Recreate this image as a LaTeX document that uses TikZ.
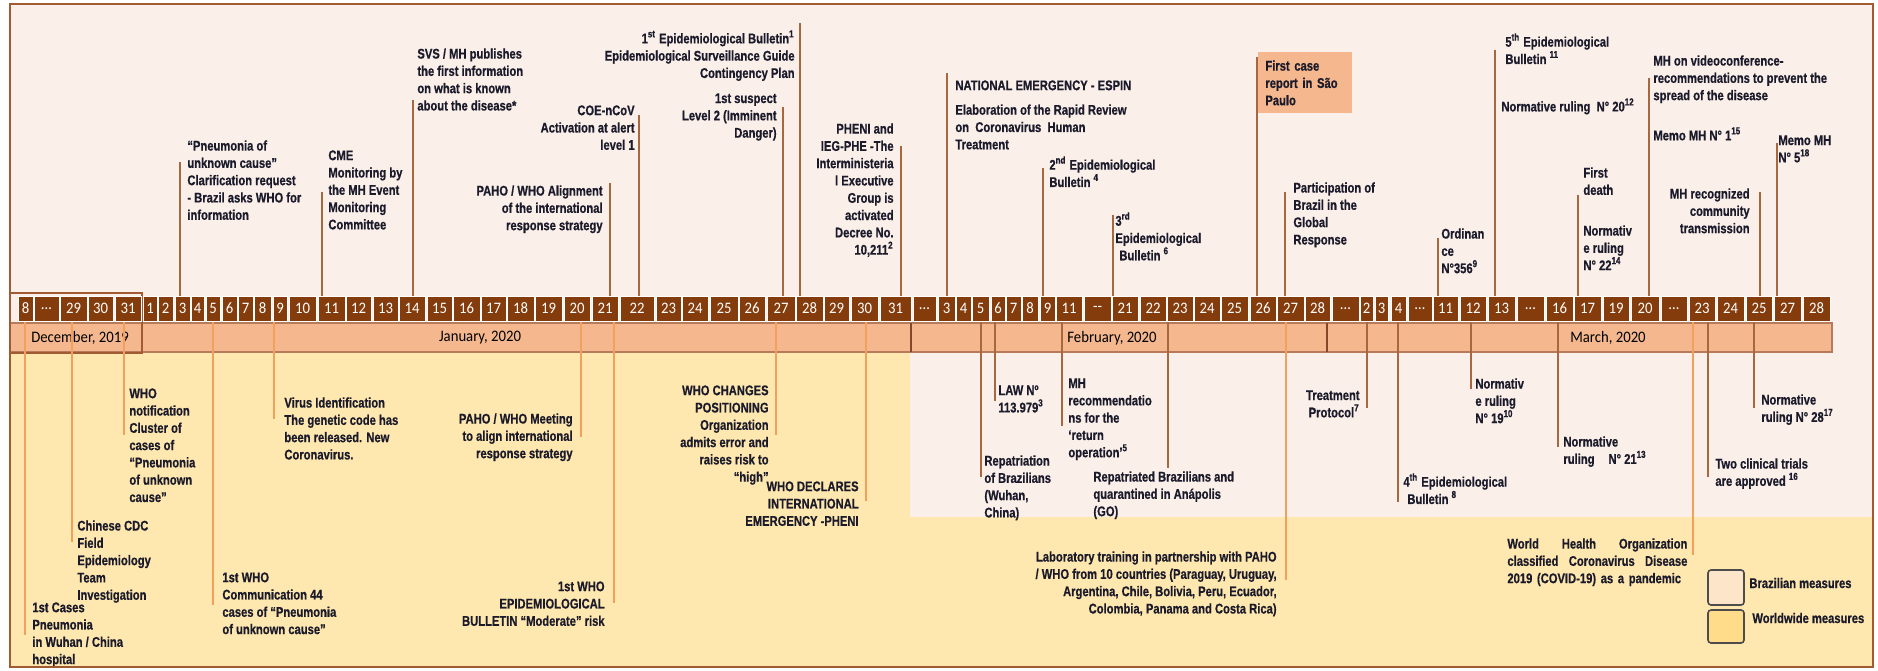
\documentclass[tikz,border=0pt]{standalone}
\usepackage{fontspec}
\setmainfont{Liberation Sans}[FakeStretch=0.8, BoldFeatures={FakeBold=0.6}]
\newfontfamily\stripfont{Carlito}[FakeStretch=0.92]
\usetikzlibrary{calc}

\definecolor{bgpink}{HTML}{FAEFE9}
\definecolor{bgyellow}{HTML}{FFE8AF}
\definecolor{daybrown}{HTML}{843C0C}
\definecolor{monthband}{HTML}{F4B78E}
\definecolor{framebrown}{HTML}{A25A32}
\definecolor{linkbrown}{HTML}{A8683F}
\definecolor{linkorange}{HTML}{F2A05C}
\definecolor{txt}{HTML}{1A1A2A}
\definecolor{legpink}{HTML}{FCE5C8}
\definecolor{legyellow}{HTML}{FFDC8A}

\newcommand{\evtfont}{\fontsize{7}{8.65}\selectfont\bfseries}

\begin{document}
\begin{tikzpicture}[
  x=0.5pt, y=-0.5pt,
  evt/.style={inner sep=0pt, font=\evtfont, text=txt},
  evtl/.style={evt, anchor=north west, align=left},
  evtr/.style={evt, anchor=north east, align=right},
  toplink/.style={linkbrown, line width=0.9pt},
  botlink/.style={linkorange, line width=0.9pt},
  brlink/.style={linkbrown, line width=0.9pt},
  daycell/.style={fill=daybrown, draw=white, line width=0.5pt, text=white,
    inner sep=0pt, minimum height=12.5pt, font=\stripfont\fontsize{8}{8}\selectfont},
  monthlbl/.style={inner sep=0pt, text=black, font=\stripfont\fontsize{8}{8}\selectfont},
  legbox/.style={draw=black!70, line width=0.8pt, rounded corners=1.5pt,
    minimum width=18pt, inner sep=0pt}
]
\useasboundingbox (0,0) rectangle (1878,670);

% --- Backgrounds: Brazilian (pink) and worldwide (yellow) ---
\fill[bgpink] (10,4) rectangle (1873,352);
\fill[bgyellow] (10,352) rectangle (1873,667);
\fill[bgpink] (910,352) rectangle (1873,517);

% --- Month band ---
\draw[fill=monthband, draw=framebrown!80, line width=0.6pt] (10,323) rectangle (1832,352);
\foreach \x in {142,911,1327}
  \draw[framebrown!80!black, line width=0.7pt] (\x,323) -- (\x,352);
\draw[framebrown, line width=1pt] (10,293) rectangle (142,353);

\node[monthlbl] (mdec) at (80,338) {December, 2019};
\node[monthlbl] (mjan) at (480,338) {January, 2020};
\node[monthlbl] (mfeb) at (1112,338) {February, 2020};
\node[monthlbl] (mmar) at (1608,338) {March, 2020};

\coordinate (striptop) at (0,296);
\coordinate (stripbot) at (0,321);

% --- Worldwide links (orange, going down) ---
\foreach \n/\x/\y in {w1/25/635, w2/72/542, w3/124/435, w4/213/605, w5/274/419,
    w6/581/437, w7/614/603, w8/776/435, w9/866/501, w10/1286/580, w11/1693/555}{
  \coordinate (\n) at (\x,\y);
  \draw[botlink] (stripbot -| \n) -- (\n);
}

% --- Brazilian links below the strip ---
\foreach \n/\x/\y in {b1/981/477, b2/995/401, b3/1062/426, b4/1168/468, b5/1367/408,
    b6/1398/502, b7/1471/389, b8/1558/447, b9/1708/477, b10/1754/408}{
  \coordinate (\n) at (\x,\y);
  \draw[brlink] (stripbot -| \n) -- (\n);
}

% --- Day cells ---
\foreach \a/\b/\lbl [count=\i] in {
    18/33/8, 34/59/\ldots, 60/87/29, 88/113/30, 115/141/31,
    143/157/1, 158/173/2, 175/190/3, 191/204/4, 206/220/5, 222/237/6, 238/253/7,
    254/271/8, 273/287/9, 289/316/10, 318/345/11, 346/371/12, 373/398/13,
    399/425/14, 427/452/15, 453/480/16, 481/506/17, 507/534/18, 535/562/19,
    564/590/20, 592/618/21, 620/654/22, 656/681/23, 682/708/24, 710/738/25,
    739/765/26, 767/795/27, 796/823/28, 824/849/29, 851/878/30, 880/911/31,
    913/936/\ldots, 938/955/3, 956/971/4, 972/989/5, 991/1005/6, 1006/1021/7,
    1022/1038/8, 1040/1055/9, 1056/1082/11, 1084/1111/--, 1112/1138/21,
    1140/1166/22, 1167/1193/23, 1194/1220/24, 1221/1248/25, 1250/1276/26,
    1277/1304/27, 1305/1330/28,
    1332/1359/\ldots, 1360/1373/2, 1375/1388/3, 1391/1406/4, 1408/1432/\ldots,
    1433/1458/11, 1460/1486/12, 1488/1515/13, 1517/1544/\ldots, 1546/1573/16,
    1574/1601/17, 1603/1629/19, 1631/1659/20, 1661/1687/\ldots, 1689/1715/23,
    1717/1744/24, 1746/1772/25, 1774/1801/27, 1803/1830/28}{
  \node[daycell, minimum width={(\b-\a)*0.5pt}] (d\i) at ({(\a+\b)/2},308.5) {\lbl};
}

% --- Brazilian links above the strip ---
\foreach \n/\x/\y in {t1/180/162, t2/322/192, t3/413/100, t4/610/183, t5/639/115,
    t6/783/107, t7/800/23, t8/901/146, t9/947/73, t10/1043/168, t11/1113/215,
    t12/1257/57, t13/1285/192, t14/1438/238, t15/1495/50, t16/1578/195,
    t17/1649/78, t18/1760/192, t19/1777/143}{
  \coordinate (\n) at (\x,\y);
  \draw[toplink] (\n) -- (\n |- striptop);
}

% --- Events above the strip ---
\node[evtl] (e-pneu) at (187,140) {“Pneumonia of\\unknown cause”\\Clarification request\\- Brazil asks WHO for\\information};
\node[evtl] (e-cme) at (328,150) {CME\\Monitoring by\\the MH Event\\Monitoring\\Committee};
\node[evtl] (e-svs) at (417,48) {SVS / MH publishes\\the first information\\on what is known\\about the disease*};
\node[evtr] (e-coe) at (635,105) {COE-nCoV\\Activation at alert\\level 1};
\node[evtr] (e-align) at (603,185) {PAHO / WHO Alignment\\of the international\\response strategy};
\node[evtr] (e-bul1) at (795,30) {1\textsuperscript{st} Epidemiological Bulletin\textsuperscript{1}\\Epidemiological Surveillance Guide\\Contingency Plan};
\node[evtr] (e-susp) at (777,93) {1st suspect\\Level 2 (Imminent\\Danger)};
\node[evtr] (e-pheni) at (894,123) {PHENI and\\IEG-PHE -The\\Interministeria\\l Executive\\Group is\\activated\\Decree No.\\10,211\textsuperscript{2}};
\node[evtl] (e-espin) at (955,80) {NATIONAL EMERGENCY - ESPIN\\[3.6pt]Elaboration of the Rapid Review\\on\ \ Coronavirus\ \ Human\\Treatment};
\node[evtl] (e-bul2) at (1049,156) {2\textsuperscript{nd} Epidemiological\\Bulletin \textsuperscript{4}};
\node[evtl] (e-bul3) at (1115,212) {3\textsuperscript{rd}\\Epidemiological\\\hspace*{2pt}Bulletin \textsuperscript{6}};
\node[evtl, fill=monthband, inner xsep=3.5pt, inner ysep=3pt, text width=40pt,
  minimum height=30.5pt] (e-case) at (1258,52) {First case\\report in São\\Paulo};
\node[evtl] (e-glob) at (1293,182) {Participation of\\Brazil in the\\Global\\Response};
\node[evtl] (e-ord) at (1441,228) {Ordinan\\ce\\N°356\textsuperscript{9}};
\node[evtl] (e-bul5) at (1505,33) {5\textsuperscript{th} Epidemiological\\Bulletin \textsuperscript{11}};
\node[evtl] (e-nr20) at (1501,98) {Normative ruling\ \ N° 20\textsuperscript{12}};
\node[evtl] (e-death) at (1583,167) {First\\death};
\node[evtl] (e-nr22) at (1583,225) {Normativ\\e ruling\\N° 22\textsuperscript{14}};
\node[evtl] (e-video) at (1653,55) {MH on videoconference-\\recommendations to prevent the\\spread of the disease};
\node[evtl] (e-memo1) at (1653,127) {Memo MH N° 1\textsuperscript{15}};
\node[evtr] (e-commu) at (1750,188) {MH recognized\\community\\transmission};
\node[evtl] (e-memo5) at (1778,135) {Memo MH\\N° 5\textsuperscript{18}};

% --- Events below the strip ---
\node[evtl] (w-wuhan) at (32,602) {1st Cases\\Pneumonia\\in Wuhan / China\\hospital};
\node[evtl] (w-cdc) at (77,520) {Chinese CDC\\Field\\Epidemiology\\Team\\Investigation};
\node[evtl] (w-notif) at (129,388) {WHO\\notification\\Cluster of\\cases of\\“Pneumonia\\of unknown\\cause”};
\node[evtl] (w-com44) at (222,572) {1st WHO\\Communication 44\\cases of “Pneumonia\\of unknown cause”};
\node[evtl] (w-virus) at (284,397) {Virus Identification\\The genetic code has\\been released. New\\Coronavirus.};
\node[evtr] (w-meet) at (573,413) {PAHO / WHO Meeting\\to align international\\response strategy};
\node[evtr] (w-epib) at (605,581) {1st WHO\\EPIDEMIOLOGICAL\\BULLETIN “Moderate” risk};
\node[evtr] (w-pos) at (769,385) {WHO CHANGES\\POSITIONING\\Organization\\admits error and\\raises risk to\\“high”};
\node[evtr] (w-pheni) at (859,481) {WHO DECLARES\\INTERNATIONAL\\EMERGENCY -PHENI};
\node[evtl] (b-repat) at (984,455) {Repatriation\\of Brazilians\\(Wuhan,\\China)};
\node[evtl] (b-law) at (998,385) {LAW Nº\\113.979\textsuperscript{3}};
\node[evtl] (b-ret) at (1068,378) {MH\\recommendatio\\ns for the\\‘return\\operation’\textsuperscript{5}};
\node[evtl] (b-quar) at (1093,471) {Repatriated Brazilians and\\quarantined in Anápolis\\(GO)};
\node[evtr] (w-lab) at (1277,551) {Laboratory training in partnership with PAHO\\/ WHO from 10 countries (Paraguay, Uruguay,\\Argentina, Chile, Bolivia, Peru, Ecuador,\\Colombia, Panama and Costa Rica)};
\node[evtr] (b-treat) at (1360,390) {Treatment\\Protocol\textsuperscript{7}};
\node[evtl] (b-bul4) at (1403,473) {4\textsuperscript{th} Epidemiological\\\hspace*{2pt}Bulletin \textsuperscript{8}};
\node[evtl] (b-nr19) at (1475,378) {Normativ\\e ruling\\N° 19\textsuperscript{10}};
\node[evtl] (b-nr21) at (1563,436) {Normative\\ruling\quad N° 21\textsuperscript{13}};
\node[evtl, text width=90pt] (w-pand) at (1507,538) {World\hfill Health\hfill Organization\\classified\hfill Coronavirus\hfill Disease\\2019 (COVID-19) as a pandemic};
\node[evtl] (b-trial) at (1715,458) {Two clinical trials\\are approved \textsuperscript{16}};
\node[evtl] (b-nr28) at (1761,394) {Normative\\ruling N° 28\textsuperscript{17}};

% --- Legend ---
\node[legbox, fill=legpink, minimum height=17.5pt] (leg-br) at (1726,587.5) {};
\node[legbox, fill=legyellow, minimum height=16.5pt] (leg-ww) at (1726,626.5) {};
\node[evt, anchor=west] (leg-br-t) at (1749,583) {Brazilian measures};
\node[evt, anchor=west] (leg-ww-t) at (1752,618) {Worldwide measures};

% --- Outer frame ---
\draw[framebrown, line width=1.2pt] (10,4) rectangle (1873,667);
\end{tikzpicture}
\end{document}
